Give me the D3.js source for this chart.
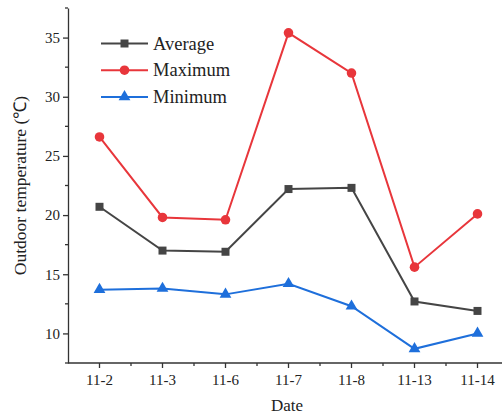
<!DOCTYPE html>
<html>
<head>
<meta charset="utf-8">
<script src="https://cdn.jsdelivr.net/npm/d3@7"></script>
<style>
  body { margin: 0; background: #fff; }
  svg text { font-family: "Liberation Serif", "Times New Roman", serif; fill: #222; }
  .axis path, .axis line { stroke: #333; stroke-width: 1.3; }
</style>
</head>
<body>
<div id="chart"></div>
<script>
// chart data
var dates = ['11-2', '11-3', '11-6', '11-7', '11-8', '11-13', '11-14'];
var averageTemp = [20.7, 17.0, 16.9, 22.2, 22.3, 12.7, 11.9];
var maximumTemp = [26.6, 19.8, 19.6, 35.4, 32.0, 15.6, 20.1];
var minimumTemp = [13.7, 13.8, 13.3, 14.2, 12.3, 8.7, 10.0];
var yTicks = [10, 15, 20, 25, 30, 35];

var series = [
    { name: 'Average', values: averageTemp, color: '#454545', symbol: d3.symbolSquare, size: 64 },
    { name: 'Maximum', values: maximumTemp, color: '#e8363b', symbol: d3.symbolCircle, size: 72 },
    { name: 'Minimum', values: minimumTemp, color: '#1e6fdb', symbol: d3.symbolTriangle, size: 60 }
];

var margin = { top: 8, right: 0, bottom: 53, left: 68 };
var width = 502 - margin.left - margin.right;
var height = 416 - margin.top - margin.bottom;

var svg = d3.select('#chart').append('svg')
    .attr('width', 502)
    .attr('height', 416)
    .append('g')
    .attr('transform', 'translate(' + margin.left + ',' + margin.top + ')');

// scales (the axis runs slightly past the right edge, as in the picture)
var x = d3.scalePoint()
    .domain(dates)
    .range([31.5, 31.5 + 63 * (dates.length - 1)]);
var y = d3.scaleLinear()
    .domain([7.5, 37.5])
    .range([height, 0]);

// x axis: major ticks at dates, minor ticks between
var xAxisG = svg.append('g')
    .attr('class', 'axis x-axis')
    .attr('transform', 'translate(0,' + height + ')');
xAxisG.append('line')
    .attr('x1', 0).attr('x2', 445)
    .attr('y1', 0).attr('y2', 0);
xAxisG.selectAll('.major').data(dates).enter().append('line')
    .attr('class', 'major')
    .attr('x1', function(d) { return x(d); })
    .attr('x2', function(d) { return x(d); })
    .attr('y1', 0).attr('y2', 5);
xAxisG.selectAll('.minor').data(dates).enter().append('line')
    .attr('class', 'minor')
    .attr('x1', function(d) { return x(d) + 31.5; })
    .attr('x2', function(d) { return x(d) + 31.5; })
    .attr('y1', 0).attr('y2', 3);
xAxisG.selectAll('.lbl').data(dates).enter().append('text')
    .attr('class', 'lbl')
    .attr('x', function(d) { return x(d); })
    .attr('y', 22)
    .style('text-anchor', 'middle')
    .style('font-size', '15px')
    .text(function(d) { return d; });

// y axis
var yAxis = d3.axisLeft(y)
    .tickValues(yTicks)
    .tickSize(5)
    .tickPadding(3)
    .tickSizeOuter(0);
var yAxisG = svg.append('g')
    .attr('class', 'axis y-axis')
    .call(yAxis);
yAxisG.selectAll('text').style('font-size', '15px').style('font-family', '"Liberation Serif", serif');
yAxisG.selectAll('.minor').data([7.5, 12.5, 17.5, 22.5, 27.5, 32.5, 37.5]).enter().append('line')
    .attr('class', 'minor')
    .attr('x1', -3).attr('x2', 0)
    .attr('y1', function(d) { return y(d); })
    .attr('y2', function(d) { return y(d); });

// axis titles
svg.append('text')
    .attr('x', 219)
    .attr('y', height + 48)
    .style('text-anchor', 'middle')
    .style('font-size', '17px')
    .text('Date');
svg.append('text')
    .attr('transform', 'rotate(-90)')
    .attr('x', -height / 2)
    .attr('y', -42)
    .style('text-anchor', 'middle')
    .style('font-size', '17.5px')
    .text('Outdoor temperature (\u2103)');

// lines and markers
var line = d3.line()
    .x(function(d, i) { return x(dates[i]); })
    .y(function(d) { return y(d); });

series.forEach(function(s) {
    svg.append('path')
        .datum(s.values)
        .attr('fill', 'none')
        .attr('stroke', s.color)
        .attr('stroke-width', 2)
        .attr('d', line);
    svg.selectAll('.pt-' + s.name).data(s.values).enter().append('path')
        .attr('class', 'pt-' + s.name)
        .attr('d', d3.symbol().type(s.symbol).size(s.size))
        .attr('fill', s.color)
        .attr('transform', function(d, i) { return 'translate(' + x(dates[i]) + ',' + y(d) + ')'; });
});

// legend
var legend = svg.selectAll('.legend').data(series).enter().append('g')
    .attr('class', 'legend')
    .attr('transform', function(d, i) { return 'translate(33,' + (35.5 + i * 26.7) + ')'; });
legend.append('line')
    .attr('x1', 0).attr('x2', 47)
    .attr('stroke', function(d) { return d.color; })
    .attr('stroke-width', 2);
legend.append('path')
    .attr('d', function(d) { return d3.symbol().type(d.symbol).size(d.size)(); })
    .attr('transform', 'translate(23.5,0)')
    .attr('fill', function(d) { return d.color; });
legend.append('text')
    .attr('x', 52)
    .attr('y', 6)
    .style('font-size', '18.5px')
    .text(function(d) { return d.name; });
</script>
</body>
</html>
